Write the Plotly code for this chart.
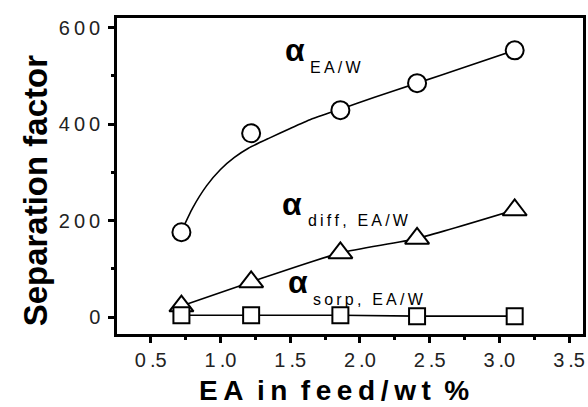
import plotly.graph_objects as go

# Data
ea_feed = [0.72, 1.22, 1.86, 2.41, 3.11]
alpha_ea_w = [176, 381, 429, 485, 553]
alpha_diff = [23, 73, 133, 163, 222]
alpha_sorp = [4, 4, 4, 2, 2]

# smooth fitted curve drawn through alpha_EA/W
fit_x = [0.72, 0.8, 0.9, 1.0, 1.1, 1.2, 1.35, 1.5, 1.65, 1.86, 2.1, 2.41, 2.75, 3.11]
fit_y = [178, 226, 272, 306, 331, 350, 371, 391, 410, 431, 455, 485, 518, 553]

x_ticks = [0.5, 1.0, 1.5, 2.0, 2.5, 3.0, 3.5]
y_ticks = [0, 200, 400, 600]

TS = "\u2009"   # thin space used to mimic the loose letter spacing
NB = "\u00a0"   # non-breaking space (not collapsed)

fig = go.Figure()
line_style = dict(color="black", width=1.6)

fig.add_trace(go.Scatter(x=fit_x, y=fit_y, mode="lines",
                         line=dict(shape="spline", smoothing=0.5, **line_style),
                         showlegend=False, hoverinfo="skip"))
fig.add_trace(go.Scatter(x=ea_feed, y=alpha_ea_w, mode="markers",
                         marker=dict(symbol="circle", size=18, color="white",
                                     line=dict(color="black", width=2)),
                         showlegend=False))
fig.add_trace(go.Scatter(x=ea_feed, y=alpha_diff, mode="lines+markers",
                         line=dict(shape="spline", smoothing=0.6, **line_style),
                         marker=dict(symbol="triangle-up", size=21, color="white",
                                     line=dict(color="black", width=2)),
                         showlegend=False))
fig.add_trace(go.Scatter(x=ea_feed, y=alpha_sorp, mode="lines+markers",
                         line=line_style,
                         marker=dict(symbol="square", size=16, color="white",
                                     line=dict(color="black", width=2)),
                         showlegend=False))

def label(ax, ay, sx, sy, sub):
    fig.add_annotation(x=ax, y=ay, xref="x", yref="y", showarrow=False, xanchor="left",
                       text="<b>α</b>", font=dict(family="Arial", size=32, color="black"))
    fig.add_annotation(x=sx, y=sy, xref="x", yref="y", showarrow=False, xanchor="left",
                       text=TS.join(sub), font=dict(family="Arial", size=16, color="black"))

label(1.45, 553, 1.63, 518, "EA/W")
label(1.43, 234, 1.61, 201, "diff, EA/W")
label(1.47, 72, 1.65, 37, "sorp, EA/W")

axis_common = dict(showline=True, linecolor="black", linewidth=2.5, mirror=True,
                   ticks="outside", ticklen=6, tickwidth=2.5, tickcolor="black",
                   showgrid=False, zeroline=False,
                   tickfont=dict(family="Arial", size=20, color="#222"))

x_title = (TS.join("EA") + NB + TS + TS.join("in") + NB + TS
           + TS.join("feed") + TS + "/" + TS + TS.join("wt") + NB + TS + "%")

fig.update_xaxes(range=[0.258, 3.6], tickvals=x_ticks,
                 ticktext=[f"{v:.1f}".replace(".", TS + ".") for v in x_ticks],
                 minor=dict(ticks="outside", ticklen=3, tickwidth=2.5, tickcolor="black",
                            dtick=0.25, tick0=0.25),
                 **axis_common)
fig.update_yaxes(range=[-35, 620], tickvals=y_ticks,
                 ticktext=[TS.join(str(v)) for v in y_ticks],
                 minor=dict(ticks="outside", ticklen=3, tickwidth=2.5, tickcolor="black",
                            dtick=100, tick0=100),
                 ticklabelstandoff=4,
                 **axis_common)

# axis titles placed as paper annotations to match the reference position
fig.add_annotation(x=0.465, y=-0.18, xref="paper", yref="paper", showarrow=False,
                   xanchor="center", yanchor="middle", text="<b>" + x_title + "</b>",
                   font=dict(family="Arial", size=28, color="black"))
fig.add_annotation(x=-0.175, y=0.456, xref="paper", yref="paper", showarrow=False,
                   xanchor="center", yanchor="middle", textangle=-90,
                   text="<b>Separation factor</b>",
                   font=dict(family="Arial", size=33, color="black"))

fig.update_layout(width=588, height=407, margin=dict(l=117, r=2, t=18, b=73),
                  plot_bgcolor="white", paper_bgcolor="white")

fig.write_html("out.html")
